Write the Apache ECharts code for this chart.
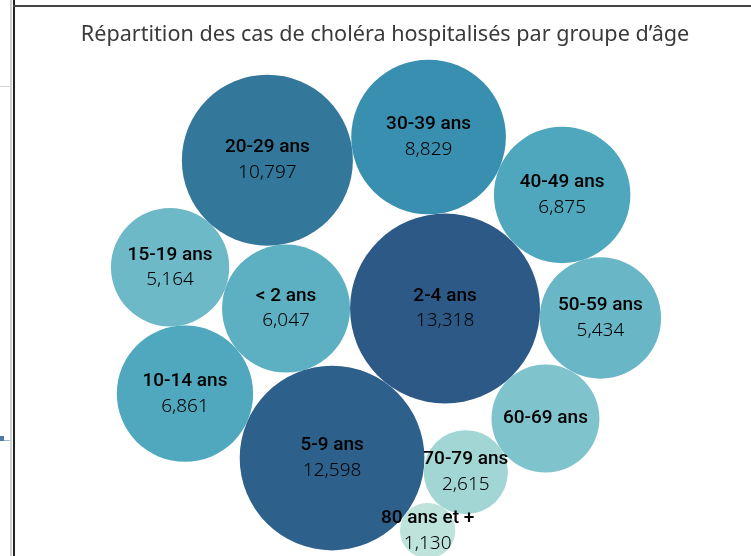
<!DOCTYPE html>
<html>
<head>
<meta charset="utf-8">
<script src="https://cdn.jsdelivr.net/npm/echarts@6/dist/echarts.min.js"></script>
<style>
  html, body { margin: 0; padding: 0; background: #fff; }
  #chart { width: 751px; height: 556px; }
</style>
</head>
<body>
<div id="chart"></div>
<script>
// cas hospitalisés par groupe d'âge (ordre de la source)
var ageGroups = ['< 2 ans', '2-4 ans', '5-9 ans', '10-14 ans', '15-19 ans', '20-29 ans',
  '30-39 ans', '40-49 ans', '50-59 ans', '60-69 ans', '70-79 ans', '80 ans et +'];
var cases = [6047, 13318, 12598, 6861, 5164, 10797, 8829, 6875, 5434, 4300, 2615, 1130];
// groupes dont la valeur n'est pas affichée dans l'étiquette
var hiddenValues = ['60-69 ans'];

var titleText = 'Répartition des cas de choléra hospitalisés par groupe d\u2019âge';

// packed bubbles: front-chain packing, rayon = racine(valeur)
function packPlace(a, b, c) {
  var db = a.r + c.r, dx = b.x - a.x, dy = b.y - a.y;
  if (db && (dx || dy)) {
    var da = b.r + c.r, dc = dx * dx + dy * dy;
    da *= da;
    db *= db;
    var x = 0.5 + (db - da) / (2 * dc);
    var y = Math.sqrt(Math.max(0, 2 * da * (db + dc) - (db -= dc) * db - da * da)) / (2 * dc);
    c.x = a.x + x * dx + y * dy;
    c.y = a.y + x * dy - y * dx;
  } else {
    c.x = a.x + db;
    c.y = a.y;
  }
}
function intersects(a, b) {
  var dx = b.x - a.x, dy = b.y - a.y, dr = a.r + b.r;
  return 0.999 * dr * dr > dx * dx + dy * dy;
}
function insert(a, b) {
  var c = a.next;
  a.next = b; b.prev = a; b.next = c; c.prev = b;
}
function splice(a, b) { a.next = b; b.prev = a; }

function packSiblings(nodes) {
  var n = nodes.length, a, b, c, i, j, k;
  nodes.forEach(function (d) { d.next = d; d.prev = d; });
  a = nodes[0]; a.x = -a.r; a.y = 0;
  if (n < 2) return;
  b = nodes[1]; b.x = b.r; b.y = 0;
  if (n < 3) return;
  c = nodes[2];
  packPlace(a, b, c);
  insert(a, c);
  a.prev = c;
  insert(c, b);
  b = a.next;
  for (i = 3; i < n; i++) {
    packPlace(a, b, c = nodes[i]);
    var isect = 0, s1 = 1, s2 = 1;
    for (j = b.next; j !== b; j = j.next, s1++) {
      if (intersects(j, c)) { isect = 1; break; }
    }
    if (isect) {
      for (k = a.prev; k !== j.prev; k = k.prev, s2++) {
        if (intersects(k, c)) break;
      }
      if (s1 < s2 || (s1 === s2 && b.r < a.r)) splice(a, b = j);
      else splice(a = k, b);
      i--;
    } else {
      insert(a, c);
      b = c;
    }
  }
}

var nodes = cases.map(function (v, i) { return { r: Math.sqrt(v), i: i }; });
packSiblings(nodes);

var xMin = Infinity, xMax = -Infinity, yMin = Infinity, yMax = -Infinity;
nodes.forEach(function (d) {
  xMin = Math.min(xMin, d.x - d.r); xMax = Math.max(xMax, d.x + d.r);
  yMin = Math.min(yMin, d.y - d.r); yMax = Math.max(yMax, d.y + d.r);
});
var cx = (xMin + xMax) / 2, cy = (yMin + yMax) / 2;

// vue : pixels par unité, centre des bulles dans la page
var W = 751, H = 556, k = 0.823, px = 386, py = 309;

var bubbleData = nodes.map(function (d) {
  return [d.x, d.y, d.r, cases[d.i], d.i];
});

var chart = echarts.init(document.getElementById('chart'));

chart.setOption({
  animation: false,
  backgroundColor: '#fff',
  title: {
    text: titleText,
    left: 380,
    top: 19,
    textAlign: 'center',
    textStyle: {
      fontFamily: 'Noto Sans',
      fontSize: 21.6,
      fontWeight: 'normal',
      color: '#3a3a3a'
    }
  },
  grid: { left: 0, right: 0, top: 0, bottom: 0 },
  xAxis: {
    type: 'value', show: false,
    min: cx - px / k, max: cx + (W - px) / k
  },
  yAxis: {
    type: 'value', show: false,
    min: cy - (H - py) / k, max: cy + py / k
  },
  visualMap: {
    type: 'continuous',
    show: false,
    dimension: 3,
    min: 1130,
    max: 13318,
    inRange: {
      color: ['#bde3da', '#a0d6d4', '#82c4cd', '#63b3c4', '#49a4bb',
        '#3990b0', '#357fa0', '#306891', '#2d5987']
    }
  },
  graphic: [
    { type: 'rect', shape: { x: 10, y: 0, width: 2, height: H }, style: { fill: '#d0d0d0' }, silent: true },
    { type: 'rect', shape: { x: 13, y: 0, width: 2, height: H }, style: { fill: '#222' }, silent: true },
    { type: 'rect', shape: { x: 13, y: 5, width: W - 13, height: 2 }, style: { fill: '#444' }, silent: true },
    { type: 'rect', shape: { x: 0, y: 86, width: 10, height: 1 }, style: { fill: '#d6d6d6' }, silent: true },
    { type: 'rect', shape: { x: 0, y: 436, width: 4, height: 5 }, style: { fill: '#4f7bab' }, silent: true },
    { type: 'rect', shape: { x: 4, y: 440, width: 6, height: 1 }, style: { fill: '#9fb6cf' }, silent: true }
  ],
  series: [{
    type: 'custom',
    coordinateSystem: 'cartesian2d',
    data: bubbleData,
    encode: { x: 0, y: 1 },
    renderItem: function (params, api) {
      var c = api.coord([api.value(0), api.value(1)]);
      var r = api.size([api.value(2), 0])[0];
      var idx = api.value(4);
      var name = ageGroups[idx];
      var val = echarts.format.addCommas(cases[idx]);
      var text = hiddenValues.indexOf(name) >= 0 ? '{n|' + name + '}' : '{n|' + name + '}\n{v|' + val + '}';
      return {
        type: 'group',
        children: [{
          type: 'circle',
          z2: 0,
          shape: { cx: c[0], cy: c[1], r: r },
          style: { fill: api.visual('color') }
        }, {
          type: 'text',
          z2: 10,
          x: c[0],
          y: c[1],
          style: {
            text: text,
            align: 'center',
            verticalAlign: 'middle',
            rich: {
              n: { fontFamily: 'Roboto', fontSize: 19, fontWeight: 500, color: '#111', lineHeight: 25, align: 'center' },
              v: { fontFamily: 'Noto Sans', fontSize: 19, fontWeight: 300, color: '#2e2e2e', lineHeight: 25, align: 'center' }
            }
          }
        }]
      };
    }
  }]
});
</script>
</body>
</html>
